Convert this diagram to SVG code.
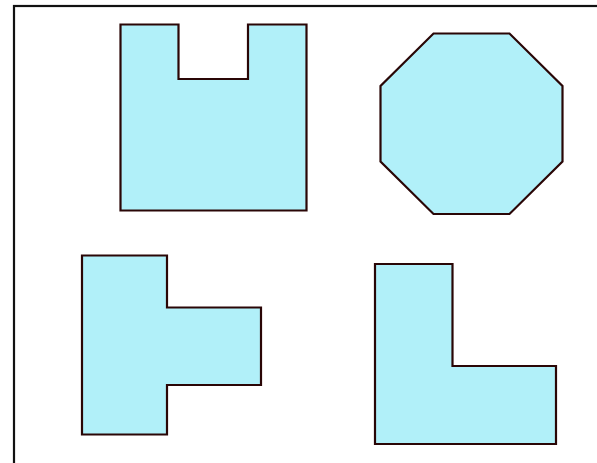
<svg xmlns="http://www.w3.org/2000/svg" width="597" height="463" viewBox="0 0 597 463">
<style>
.s{fill:#b1f0f9;stroke:#2a0606;stroke-width:2.2;stroke-linejoin:miter}
</style>
<rect width="597" height="463" fill="#fff"/>
<rect x="14" y="6" width="600" height="480" fill="none" stroke="#111" stroke-width="2.2"/>
<g id="u-shape"><polygon class="s" points="120.5,24.5 178.5,24.5 178.5,79 248,79 248,24.5 306.5,24.5 306.5,210.5 120.5,210.5"/></g>
<g id="octagon"><polygon class="s" points="433.5,33.5 509.5,33.5 562.5,86 562.5,161.5 509.5,214 433.5,214 380.5,161.5 380.5,86"/></g>
<g id="t-shape"><polygon class="s" points="82,255.5 167,255.5 167,307.5 261,307.5 261,385 167,385 167,434.5 82,434.5"/></g>
<g id="l-shape"><polygon class="s" points="375,264 452.5,264 452.5,366 556,366 556,444 375,444"/></g>
<g id="connectors"></g>
</svg>
